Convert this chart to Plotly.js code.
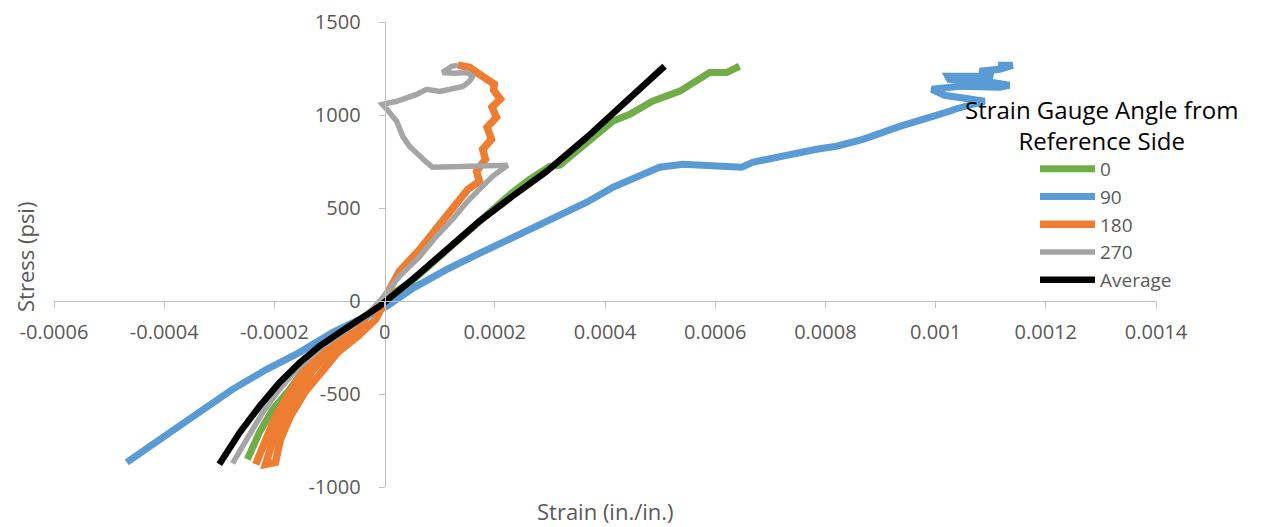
<!DOCTYPE html>
<html>
<head>
<meta charset="utf-8">
<script src="https://cdn.plot.ly/plotly-3.0.1.min.js"></script>
<style>html,body{margin:0;padding:0;background:#fff;}#chart{width:1262px;height:527px;}</style>
</head>
<body>
<div id="chart"></div>
<script>
// ---- Data ----
var seriesNames = ['0', '90', '180', '270', 'Average'];

var strain0 = [-0.000249, -0.000227, -0.000203, -0.000172, -0.000142, -0.000105, -0.000069, -0.000033, -0.000009, 0.000051, 0.000113, 0.000172, 0.000232, 0.000263, 0.000300, 0.000318, 0.000367, 0.000414, 0.000445, 0.000486, 0.000535, 0.000566, 0.000590, 0.000621, 0.000644];
var stress0 = [-851, -706, -582, -475, -351, -260, -168, -88, -7, 111, 273, 428, 584, 654, 724, 730, 853, 966, 1004, 1074, 1127, 1181, 1229, 1229, 1262];

var strain90 = [-0.000468, -0.000427, -0.000385, -0.000336, -0.000276, -0.000214, -0.000154, -0.000094, -0.000033, 0.000004, 0.000051, 0.000113, 0.000172, 0.000232, 0.000294, 0.000318, 0.000367, 0.000414, 0.000457, 0.000499, 0.000541, 0.000572, 0.000648, 0.000668, 0.000693, 0.000722, 0.000753, 0.000784, 0.000820, 0.000868, 0.000935, 0.000971, 0.000995, 0.001025, 0.001035, 0.001089, 0.001044, 0.001016, 0.000993, 0.001044, 0.001116, 0.001134, 0.001089, 0.001025, 0.001022, 0.001071, 0.001104, 0.001080, 0.001116, 0.001140, 0.001113];
var stress90 = [-867, -781, -690, -598, -475, -367, -276, -168, -82, -28, 68, 170, 256, 342, 428, 461, 531, 611, 670, 719, 735, 730, 719, 746, 762, 778, 799, 816, 832, 869, 939, 966, 993, 1020, 1031, 1074, 1090, 1106, 1138, 1154, 1149, 1160, 1181, 1192, 1208, 1213, 1208, 1235, 1246, 1267, 1267];

var strain180 = [-0.000234, -0.000216, -0.000198, -0.000172, -0.000145, -0.000109, -0.000074, -0.000033,
  -0.000060, -0.000100, -0.000132, -0.000159, -0.000184, -0.000202, -0.000216,
  -0.000198, -0.000189, -0.000171, -0.000145, -0.000116, -0.000085, -0.000049, -0.000016, -0.000004,
  0.000002, 0.000027, 0.000064, 0.000100, 0.000131, 0.000151, 0.000172, 0.000167, 0.000183, 0.000178, 0.000194, 0.000186, 0.000203, 0.000195, 0.000210, 0.000198, 0.000199, 0.000182, 0.000169, 0.000154, 0.000133];
var stress180 = [-878, -743, -620, -491, -367, -260, -190, -98,
  -190, -270, -378, -491, -620, -743, -878,
  -867, -743, -620, -491, -383, -276, -190, -98, -28,
  26, 160, 278, 412, 525, 600, 643, 697, 762, 816, 869, 934, 988, 1042, 1085, 1134, 1166, 1193, 1225, 1257, 1268];

var strain270 = [-0.000276, -0.000251, -0.000221, -0.000191, -0.000154, -0.000113, -0.000069, -0.000033, -0.000009, 0.000027, 0.000064, 0.000094, 0.000123, 0.000149, 0.000172, 0.000196, 0.000223, 0.000087, 0.000076, 0.000064, 0.000045, 0.000033, 0.000022, 0.000004, -0.000004, 0.000022, 0.000058, 0.000076, 0.000100, 0.000142, 0.000154, 0.000160, 0.000149, 0.000127, 0.000105, 0.000122, 0.000133];
var stress270 = [-873, -743, -598, -475, -351, -244, -152, -82, -2, 133, 240, 348, 439, 531, 600, 670, 730, 719, 746, 778, 832, 885, 966, 1031, 1057, 1074, 1111, 1138, 1127, 1154, 1181, 1208, 1229, 1224, 1229, 1262, 1268];

var strainAvg = [-0.000300, -0.000263, -0.000227, -0.000191, -0.000154, -0.000118, -0.000082, -0.000045, -0.000009, 0.000051, 0.000113, 0.000172, 0.000232, 0.000294, 0.000367, 0.000427, 0.000468, 0.000508];
var stressAvg = [-878, -707, -566, -439, -331, -242, -170, -98, -28, 117, 278, 428, 563, 697, 880, 1041, 1154, 1262];

var xTickVals = [-0.0006, -0.0004, -0.0002, 0, 0.0002, 0.0004, 0.0006, 0.0008, 0.001, 0.0012, 0.0014];
var xTickText = ['-0.0006', '-0.0004', '-0.0002', '0', '0.0002', '0.0004', '0.0006', '0.0008', '0.001', '0.0012', '0.0014'];
var yTickVals = [-1000, -500, 0, 500, 1000, 1500];
var yTickText = ['-1000', '-500', '0', '500', '1000', '1500'];

var xTitle = 'Strain (in./in.)';
var yTitle = 'Stress (psi)';
var legendTitle = 'Strain Gauge Angle from<br>Reference Side';

// ---- Styles ----
var colors = ['#70AD47', '#5B9BD5', '#ED7D31', '#A5A5A5', '#000000'];
var xs = [strain0, strain90, strain180, strain270, strainAvg];
var ys = [stress0, stress90, stress180, stress270, stressAvg];
var widths = [7, 7, 7.5, 5.5, 6.5];

var traces = seriesNames.map(function (n, i) {
  return {
    type: 'scatter', mode: 'lines', name: n,
    x: xs[i], y: ys[i],
    line: {color: colors[i], width: widths[i], shape: 'linear'},
    hoverinfo: 'skip'
  };
});

var L = 54, T = 22, PW = 1102, PH = 465;
function px2x(p) { return (p - L) / PW; }
function py2y(p) { return 1 - (p - T) / PH; }

var axisCommon = {
  showline: true, linecolor: '#bfbfbf', linewidth: 1,
  ticks: 'outside', ticklen: 6, tickcolor: '#bfbfbf', tickwidth: 1,
  showgrid: false, zeroline: false, fixedrange: true,
  tickfont: {family: 'Open Sans, sans-serif', size: 20, color: '#595959'}
};

var layout = {
  width: 1262, height: 527,
  margin: {l: L, r: 1262 - L - PW, t: T, b: 527 - T - PH, pad: 0},
  paper_bgcolor: '#ffffff', plot_bgcolor: '#ffffff',
  font: {family: 'Open Sans, sans-serif', color: '#595959'},
  xaxis: Object.assign({}, axisCommon, {
    range: [-0.0006, 0.0014], anchor: 'free', position: 0.4,
    tickmode: 'array', tickvals: xTickVals, ticktext: xTickText,
    ticklabelstandoff: 7
  }),
  yaxis: Object.assign({}, axisCommon, {
    range: [-1000, 1500], anchor: 'free', position: 0.3,
    tickmode: 'array', tickvals: yTickVals, ticktext: yTickText,
    ticklabelstandoff: 14
  }),
  showlegend: true,
  legend: {
    x: px2x(1035), y: py2y(150), xanchor: 'left', yanchor: 'top',
    bgcolor: 'rgba(0,0,0,0)', borderwidth: 0,
    font: {family: 'Open Sans, sans-serif', size: 19, color: '#595959'},
    itemwidth: 55, tracegroupgap: 0
  },
  annotations: [
    {text: xTitle, xref: 'paper', yref: 'paper', x: px2x(605), y: py2y(511),
     xanchor: 'center', yanchor: 'middle', showarrow: false,
     font: {family: 'Open Sans, sans-serif', size: 22, color: '#595959'}},
    {text: yTitle, xref: 'paper', yref: 'paper', x: px2x(25), y: py2y(257),
     xanchor: 'center', yanchor: 'middle', showarrow: false, textangle: -90,
     font: {family: 'Open Sans, sans-serif', size: 22, color: '#595959'}},
    {text: legendTitle, xref: 'paper', yref: 'paper', x: px2x(1101), y: py2y(125),
     xanchor: 'center', yanchor: 'middle', showarrow: false, align: 'center',
     font: {family: 'Open Sans, sans-serif', size: 24, color: '#000000'}}
  ]
};

Plotly.newPlot('chart', traces, layout, {displayModeBar: false, staticPlot: true});
</script>
</body>
</html>
